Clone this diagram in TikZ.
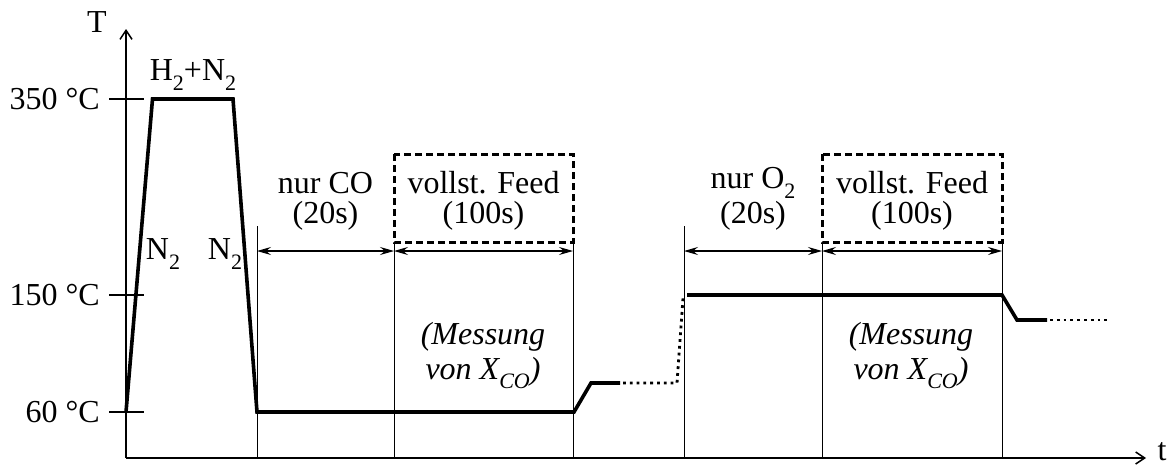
\documentclass[tikz,border=0pt]{standalone}
\usepackage{fontspec}
\setmainfont{Liberation Serif}
\usetikzlibrary{arrows.meta}
\newcommand{\subs}[1]{\raisebox{-0.3em}{\fontsize{22}{22}\selectfont #1}}
\begin{document}
\begin{tikzpicture}[x=1pt,y=-1pt,
  every node/.style={font=\fontsize{32}{36}\selectfont, inner sep=0pt},
  axis/.style={line width=1.5pt, -{Straight Barb[length=9pt,width=12pt,line width=1.5pt]}},
  tick/.style={line width=1.5pt},
  guide/.style={line width=1pt},
  dim/.style={line width=1.1pt, {Stealth[length=14pt,width=8pt,inset=5pt]}-{Stealth[length=14pt,width=8pt,inset=5pt]}},
  profile/.style={line width=3.6pt, line join=miter},
  dots/.style={line width=2.8pt, dash pattern=on 2.8pt off 4pt},
  feedbox/.style={line width=3pt, dash pattern=on 7pt off 4pt}]
\useasboundingbox (0,0) rectangle (1172,471);

% axes
\coordinate (O) at (126,458);
\coordinate (Ytop) at (126,29);
\coordinate (Xend) at (1146,458);
\draw[axis] (O) -- (Ytop);
\draw[axis] (O) -- (Xend);
\node (T) at (97,22) {T};
\node (t) at (1162,452) {t};

% ticks and labels
\draw[tick] (109,99) -- (144,99);
\draw[tick] (109,295) -- (144,295);
\draw[tick] (109,412) -- (144,412);
\node[anchor=east] (l350) at (100,99) {350 °C};
\node[anchor=east] (l150) at (100,295) {150 °C};
\node[anchor=east] (l60) at (100,412) {60 °C};

% guide lines
\draw[guide] (257,226) -- (257,458);
\draw[guide] (394,242) -- (394,458);
\draw[guide] (573,242) -- (573,458);
\draw[guide] (684,226) -- (684,458);
\draw[guide] (822,242) -- (822,458);
\draw[guide] (1002,242) -- (1002,458);

% dimension arrows
\coordinate (d1) at (257,251);
\coordinate (d2) at (394,251);
\coordinate (d3) at (573,251);
\coordinate (d4) at (684,251);
\coordinate (d5) at (822,251);
\coordinate (d6) at (1002,251);
\draw[dim] (d1) -- (d2);
\draw[dim] (d2) -- (d3);
\draw[dim] (d4) -- (d5);
\draw[dim] (d5) -- (d6);

% dashed boxes
\draw[feedbox] (394,154) rectangle (573,242);
\draw[feedbox] (822,154) rectangle (1002,242);

% phase labels
\node (co1) at (325.5,183) {nur CO};
\node (co2) at (325.5,216) {(20s)};
\node (f1a) at (483.5,183) {vollst. Feed};
\node (f1b) at (483.5,216) {(100s)};
\node (o1) at (753,183) {nur O\subs{2}};
\node (o2) at (753,216) {(20s)};
\node (f2a) at (912,183) {vollst. Feed};
\node (f2b) at (912,216) {(100s)};

\node (h2n2) at (193,75) {H\subs{2}+N\subs{2}};
\node (n2a) at (163,254) {N\subs{2}};
\node (n2b) at (225,254) {N\subs{2}};

\node[font=\fontsize{32}{36}\selectfont\itshape] (m1a) at (483,337) {(Messung};
\node[font=\fontsize{32}{36}\selectfont\itshape] (m1b) at (483,373) {von X\subs{\itshape CO})};
\node[font=\fontsize{32}{36}\selectfont\itshape] (m2a) at (911,337) {(Messung};
\node[font=\fontsize{32}{36}\selectfont\itshape] (m2b) at (911,373) {von X\subs{\itshape CO})};

% temperature profile
\draw[profile] (126,412) -- (152.5,99) -- (233,99) -- (257,412) -- (574,412) -- (591,383) -- (620,383);
\draw[dots] (623,383) -- (677,383) -- (683,298);
\draw[profile] (687,295) -- (1002,295) -- (1017,320) -- (1047,320);
\draw[dots] (1050,320) -- (1110,320);
\end{tikzpicture}
\end{document}
